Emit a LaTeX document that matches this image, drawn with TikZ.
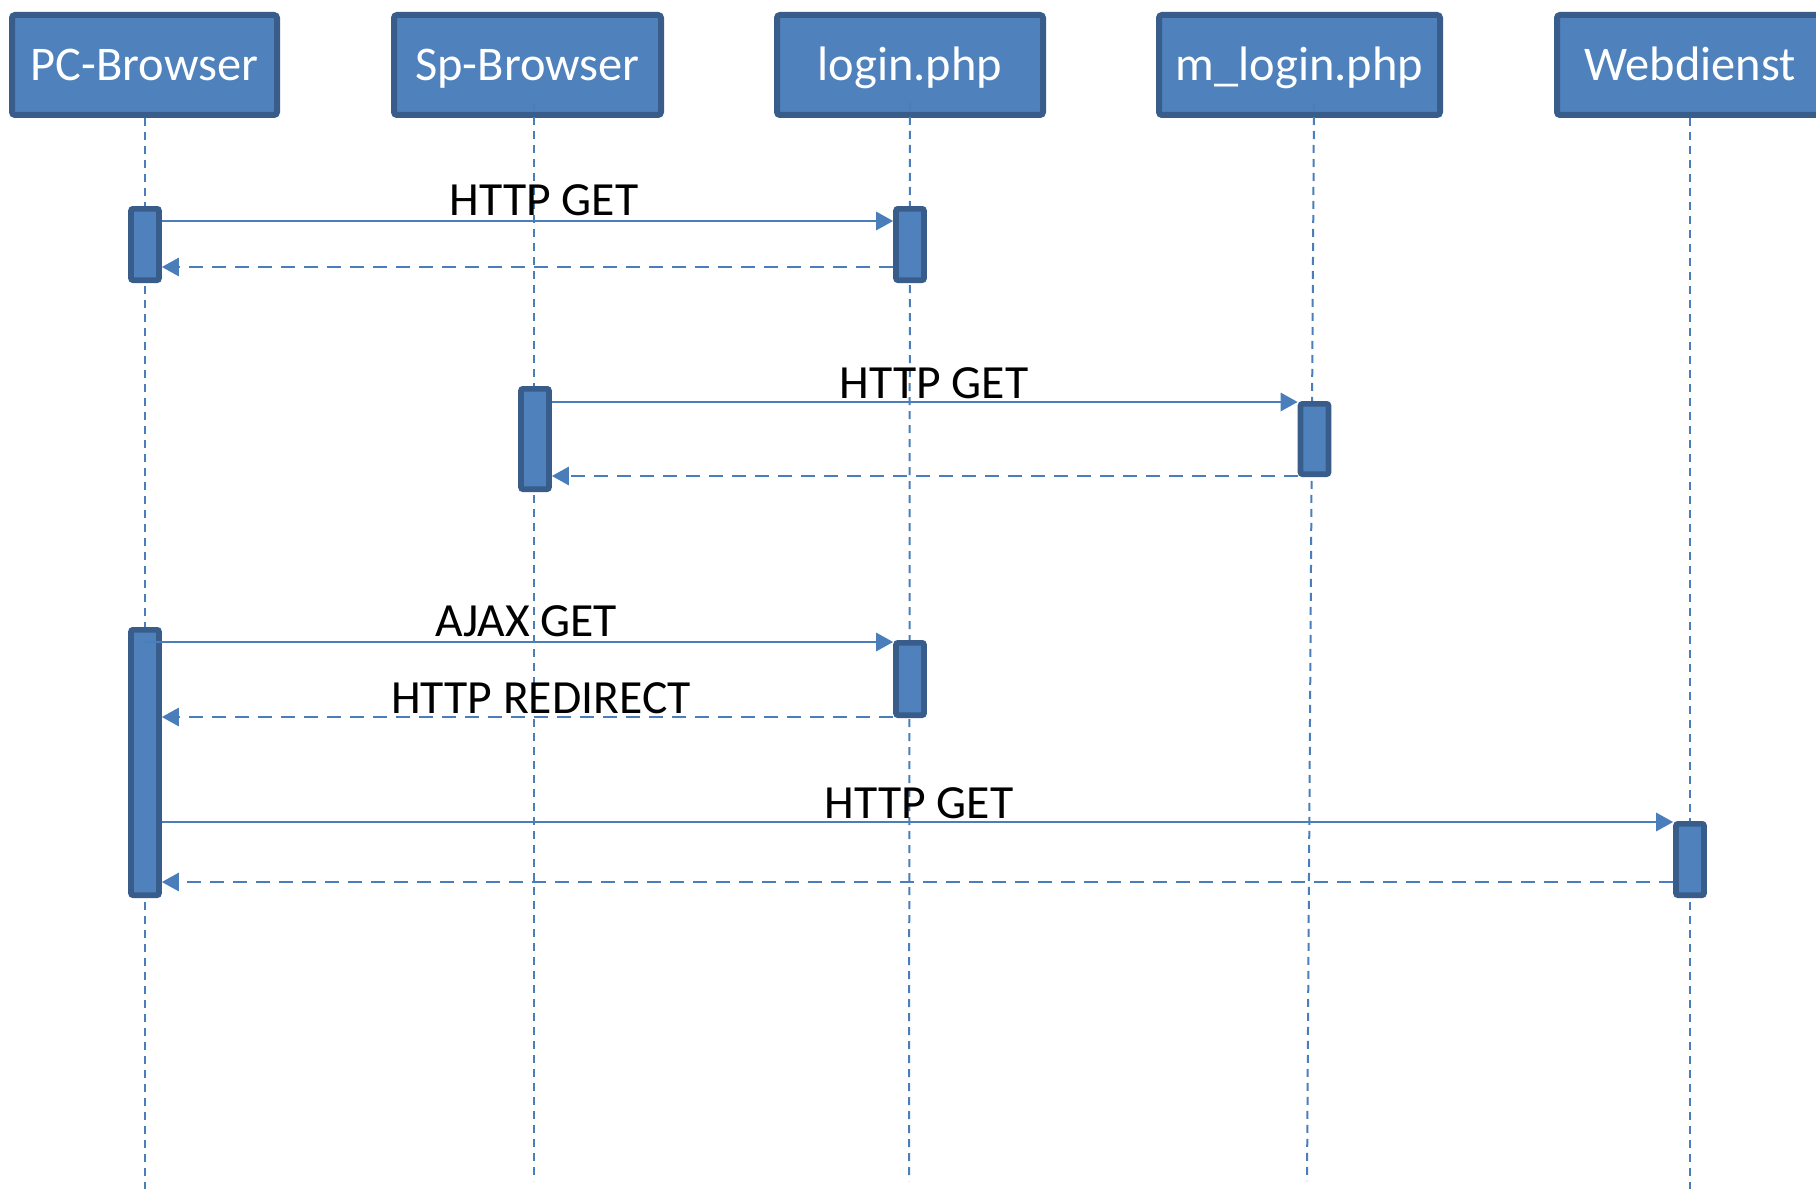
\documentclass[tikz,border=0pt]{standalone}
\usepackage{fontspec}
\setmainfont{Carlito}
\usetikzlibrary{arrows.meta}
\definecolor{boxfill}{HTML}{4F81BD}
\definecolor{boxline}{HTML}{385D8A}
\definecolor{lineblue}{HTML}{4A7EBB}
\begin{document}
\begin{tikzpicture}[x=0.5pt,y=-0.5pt,
  hdr/.style={draw=boxline, fill=boxfill, line width=3pt, rounded corners=1.5pt,
    text=white, font=\fontsize{24.2}{29}\selectfont, minimum height=50pt,
    text height=16pt, text depth=0pt, inner sep=0pt},
  act/.style={draw=boxline, fill=boxfill, line width=2.8pt, rounded corners=1pt,
    minimum width=14pt, inner sep=0pt},
  life/.style={draw=lineblue, line width=1pt, dash pattern=on 4pt off 3pt},
  msg/.style={draw=lineblue, line width=1.4pt, -{Triangle[length=8.5pt,width=9pt]}},
  ret/.style={msg, dash pattern=on 7pt off 4.5pt},
  lbl/.style={font=\fontsize{23.8}{28}\selectfont, anchor=base, inner sep=0pt}]
\useasboundingbox (0,0) rectangle (1816,1193);
\fill[white] (0,0) rectangle (1816,1193);
\clip (0,0) rectangle (1816,1193);

% header boxes
\node[hdr, minimum width=132.5pt] (pc)  at (144.5,65) {PC-Browser};
\node[hdr, minimum width=133.5pt] (sp)  at (527.5,65) {Sp-Browser};
\node[hdr, minimum width=133pt]   (lg)  at (910,65)   {login.php};
\node[hdr, minimum width=140.5pt] (mlg) at (1299.5,65) {m\_login.php};
\node[hdr, minimum width=133pt]   (web) at (1690,65)  {Webdienst};

% lifeline end points
\coordinate (pcTop)  at (145,118);   \coordinate (pcEnd)  at (145,1189);
\coordinate (spTop)  at (534,103);   \coordinate (spEnd)  at (534,1181);
\coordinate (lgTop)  at (910,103);   \coordinate (lgEnd)  at (909,1181);
\coordinate (mlgTop) at (1314,103);  \coordinate (mlgEnd) at (1307,1181);
\coordinate (webTop) at (1690,118);  \coordinate (webEnd) at (1690,1189);
\draw[life] (pcTop) -- (pcEnd);
\draw[life] (spTop) -- (spEnd);
\draw[life] (lgTop) -- (lgEnd);
\draw[life] (mlgTop) -- (mlgEnd);
\draw[life] (webTop) -- (webEnd);

% activations
\node[act, minimum height=35.7pt]  (pcA)  at (145,244.5) {};
\node[act, minimum height=35.7pt]  (lgA)  at (910,244.5) {};
\node[act, minimum height=50.2pt]  (spA)  at (535,439) {};
\node[act, minimum height=35.2pt]  (mlgA) at (1314.5,439) {};
\node[act, minimum height=132.7pt] (pcB)  at (145,762.5) {};
\node[act, minimum height=36.2pt]  (lgB)  at (910,679) {};
\node[act, minimum height=35.7pt]  (webA) at (1690,859.5) {};

% messages
\draw[msg] (pcA.east |- 0,221) -- (lgA.west |- 0,221);
\draw[ret] (lgA.west |- 0,267) -- (pcA.east |- 0,267);
\draw[msg] (spA.east |- 0,402) -- (mlgA.west |- 0,402);
\draw[ret] (mlgA.west |- 0,476) -- (spA.east |- 0,476);
\draw[msg] (pcB.center |- 0,642) -- (lgB.west |- 0,642);
\draw[ret] (lgB.west |- 0,717) -- (pcB.east |- 0,717);
\draw[msg] (pcB.east |- 0,822) -- (webA.west |- 0,822);
\draw[ret] (webA.west |- 0,882) -- (pcB.east |- 0,882);

% labels
\node[lbl] (l1) at (544,215) {HTTP GET};
\node[lbl] (l2) at (934,398) {HTTP GET};
\node[lbl] (l3) at (526,636) {AJAX GET};
\node[lbl] (l4) at (541,713) {HTTP REDIRECT};
\node[lbl] (l5) at (919,818) {HTTP GET};
\end{tikzpicture}
\end{document}
